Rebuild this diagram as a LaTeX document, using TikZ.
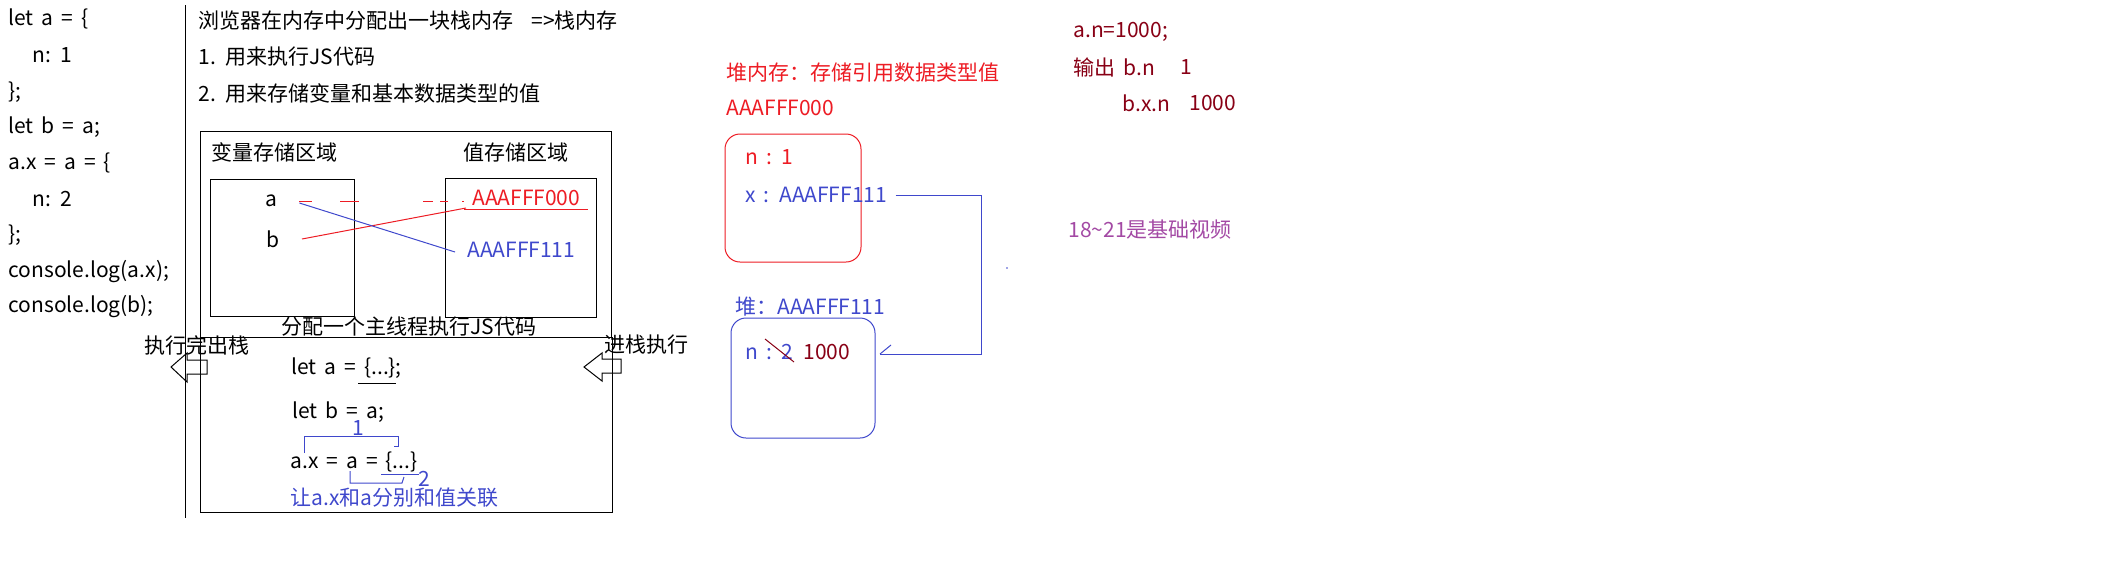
\documentclass[tikz,border=0pt]{standalone}
\usepackage{fontspec}
\setmainfont{Noto Sans CJK SC}[WordSpace=1.7]
\usepackage{tikz}
\usetikzlibrary{arrows,positioning}
\definecolor{pred}{RGB}{237,28,36}
\definecolor{pblue}{RGB}{63,72,204}
\definecolor{pdark}{RGB}{136,0,21}
\definecolor{ppurple}{RGB}{163,73,164}
\tikzstyle{txt} = [anchor=west, inner sep=0pt, font=\fontsize{21}{25}\selectfont]
\tikzstyle{var} = [inner sep=0pt, font=\fontsize{21}{25}\selectfont]
\tikzstyle{heapbox} = [draw, rounded corners=15pt, inner sep=0pt]

\begin{document}
\begin{tikzpicture}[x=1pt,y=-1pt,line width=1pt]
\useasboundingbox (0,0) rectangle (2114,576);

    % code on the left
	\node[txt] (c1) at (8,19) {let a = \{};
	\node[txt] (c2) at (32,55) {n: 1};
	\node[txt] (c3) at (8,92) {\};};
	\node[txt] (c4) at (8,127) {let b = a;};
	\node[txt] (c5) at (8,163) {a.x = a = \{};
	\node[txt] (c6) at (32,199) {n: 2};
	\node[txt] (c7) at (8,235) {\};};
	\node[txt] (c8) at (8,272) {console.log(a.x);};
	\node[txt] (c9) at (8,307) {console.log(b);};
    \draw (185,5) -- (185,518);

	\node[txt] (s1) at (198,21) {浏览器在内存中分配出一块栈内存\hspace{18pt}=>栈内存};
	\node[txt] (s2) at (198,57) {1. 用来执行JS代码};
	\node[txt] (s3) at (198,93) {2. 用来存储变量和基本数据类型的值};

    % stack
    \draw (200,131) rectangle (611,337);
    \draw (200,337) rectangle (612,512);
    \draw (210,179) rectangle (354,316);
    \draw (445,178) rectangle (596,317);
	\node[txt] (varzone) at (211,152) {变量存储区域};
	\node[txt] (valzone) at (463,152) {值存储区域};
	\node[var] (va) at (271,201) {a};
	\node[var] (vb) at (273,239) {b};
	\node[txt, text=pred] (v000) at (472,198) {AAAFFF000};
	\node[txt, text=pblue] (v111) at (467,250) {AAAFFF111};
    \draw[pred] (464,209) -- (588,209);

    \draw[pred, dash pattern=on 13pt off 28pt on 19pt off 64pt on 10pt off 7pt on 8pt off 14pt]
        ([xshift=22pt]va.east) -- ([xshift=-8pt,yshift=-3pt]v000.west);
    \draw[pred] ([xshift=22pt]vb.east) -- ([xshift=-6pt,yshift=-10pt]v000.west);
    \draw[pblue] ([xshift=22pt,yshift=-2pt]va.east) -- ([xshift=-12pt,yshift=-2pt]v111.west);

	\node[txt] (thread) at (281,327) {分配一个主线程执行JS代码};
	\node[txt] (popout) at (144,345) {执行完出栈};
	\node[txt] (pushin) at (604,345) {进栈执行};
    \draw (171,367) -- (187,353) -- (187,360) -- (207,360) -- (207,374) -- (187,374) -- (187,382) -- cycle;
    \draw (584,367) -- (602,353) -- (602,359) -- (621,359) -- (621,373) -- (602,373) -- (602,381) -- cycle;

	\node[txt] (l1) at (291,368) {let a = \{...\};};
    \draw (358,383) -- (396,383);
	\node[txt] (l2) at (292,412) {let b = a;};
	\node[txt] (l3) at (290,462) {a.x = a = \{...\}};
	\node[var, text=pblue] (one) at (358,428) {1};
	\node[var, text=pblue] (two) at (424,479) {2};
    \draw[pblue] (304,453) -- (304,436) -- (398,436) -- (398,446) -- (394,446);
    \draw[pblue] (381,474) -- (419,474);
    \draw[pblue] (350,471) -- (350,483) -- (402,483) -- (404,477);
	\node[txt, text=pblue] (note) at (290,498) {让a.x和a分别和值关联};

    % heap
	\node[txt, text=pred] (heaptitle) at (726,73) {堆内存：存储引用数据类型值};
	\node[txt, text=pred] (h000) at (726,108) {AAAFFF000};
	\node[heapbox, draw=pred, minimum width=136pt, minimum height=128pt] (heapA) at (793,198) {};
	\node[txt, text=pred] (na) at (745,157) {n : 1};
	\node[txt, text=pblue] (xref) at (745,195) {x : AAAFFF111};

	\node[txt, text=pblue] (h111) at (735,307) {堆：AAAFFF111};
	\node[heapbox, draw=pblue, minimum width=144pt, minimum height=120pt] (heapB) at (803,378) {};
	\node[txt, text=pblue] (nb) at (745,352) {n : 2};
	\node[txt, text=pdark] (nnew) at (803,352) {1000};
    \draw[pdark] (765,339) -- (794,362);

    \coordinate (turn) at (981,354);
    \coordinate (tipB) at (880,354);
    \draw[pblue] ([xshift=8pt]xref.east) -| (turn) -- (tipB);
    \draw[pblue] (tipB) -- ++(11,-9);
    \fill[pblue] (1007,268) circle[radius=0.8pt];

    % output
	\node[txt, text=pdark] (o1) at (1073,32) {a.n=1000;};
	\node[txt, text=pdark] (o2) at (1073,67) {输出 b.n};
	\node[txt, text=pdark] (o3) at (1180,67) {1};
	\node[txt, text=pdark] (o4) at (1122,103) {b.x.n};
	\node[txt, text=pdark] (o5) at (1189,103) {1000};
	\node[txt, text=ppurple] (video) at (1068,230) {18\textasciitilde21是基础视频};
\end{tikzpicture}
\end{document}
